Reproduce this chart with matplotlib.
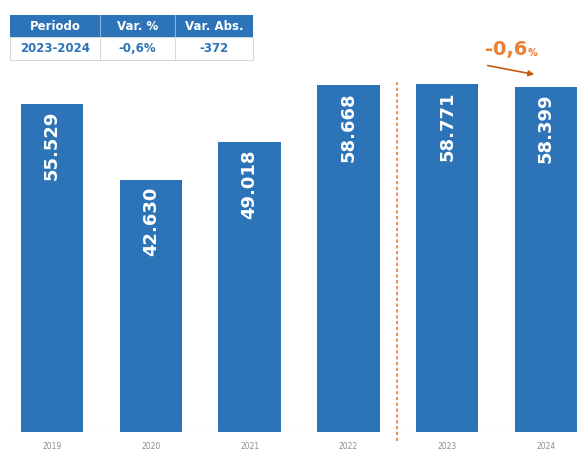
import matplotlib
matplotlib.use("Agg")
import matplotlib.pyplot as plt
from matplotlib.patches import Rectangle, FancyArrowPatch
from matplotlib.lines import Line2D

years = ["2019", "2020", "2021", "2022", "2023", "2024"]
values = [55529, 42630, 49018, 58668, 58771, 58399]
value_labels = ["55.529", "42.630", "49.018", "58.668", "58.771", "58.399"]
table_header = ["Periodo", "Var. %", "Var. Abs."]
table_row = ["2023-2024", "-0,6%", "-372"]
change_text = "-0,6"

W, H = 578, 454
fig = plt.figure(figsize=(W / 100, H / 100), dpi=100)
fig.patch.set_facecolor("white")

BLUE = "#2C74B7"
ORANGE = "#ED7D31"

# axes: y=0 at pixel 432, x positions centered at 52 .. 546
bottom_px = 432
ax = fig.add_axes([0, (H - bottom_px) / H, 1, bottom_px / H])
px_per_unit = (546 - 52) / 5
ax.set_xlim(-52 / px_per_unit, 5 + (W - 546) / px_per_unit)
ymax = bottom_px / (432 - 85) * values[3]
ax.set_ylim(0, ymax)
for s in ax.spines.values():
    s.set_visible(False)
ax.set_yticks([])
ax.patch.set_alpha(0)

x = list(range(len(years)))
ax.bar(x, values, width=0.63, color=BLUE, zorder=2)
ax.set_xticks(x)
ax.set_xticklabels(years, fontsize=5.5, color="#8C8C8C")
ax.tick_params(axis="x", length=0, pad=7)

# baseline
ax.axhline(0, xmin=5 / W, xmax=1, color="#D9D9D9", lw=0.8, zorder=1)

for xi, v, lab in zip(x, values, value_labels):
    ax.annotate(lab, (xi, v), xytext=(0, -5), textcoords="offset points",
                rotation=90, ha="center", va="top", color="white",
                fontsize=13, fontweight="bold", zorder=3)

# dashed separator between 2022 and 2023
ax.plot([3.49, 3.49], [-0.02 * ymax, 0.81 * ymax], color="#F07A3A", lw=1.2,
        ls=(0, (2, 1.5)), clip_on=False, zorder=1)


def fx(px):
    return px / W


def fy(py):
    return 1 - py / H


# table
cols = [10, 100, 175, 253]
rows = [15, 37, 60]
fig.add_artist(Rectangle((fx(cols[0]), fy(rows[1])), fx(cols[3] - cols[0]),
                         (rows[1] - rows[0]) / H, transform=fig.transFigure,
                         facecolor=BLUE, edgecolor="none"))
fig.add_artist(Rectangle((fx(cols[0]), fy(rows[2])), fx(cols[3] - cols[0]),
                         (rows[2] - rows[1]) / H, transform=fig.transFigure,
                         facecolor="white", edgecolor="#D0D0D0", lw=0.6))
for c in cols[1:3]:
    fig.add_artist(Line2D([fx(c), fx(c)], [fy(rows[0]), fy(rows[1])],
                          transform=fig.transFigure, color="#9DC3E6", lw=0.6))
    fig.add_artist(Line2D([fx(c), fx(c)], [fy(rows[1]), fy(rows[2])],
                          transform=fig.transFigure, color="#D0D0D0", lw=0.6))
for i in range(3):
    cx = fx((cols[i] + cols[i + 1]) / 2)
    fig.text(cx, fy((rows[0] + rows[1]) / 2), table_header[i], ha="center",
             va="center", color="white", fontsize=8.5, fontweight="bold")
    fig.text(cx, fy((rows[1] + rows[2]) / 2), table_row[i], ha="center",
             va="center", color=BLUE, fontsize=8.5, fontweight="bold")

# change annotation
fig.text(fx(527), fy(50), change_text, ha="right", va="center", color=ORANGE,
         fontsize=14, fontweight="bold")
fig.text(fx(528), fy(53), "%", ha="left", va="center", color=ORANGE,
         fontsize=7, fontweight="bold")
fig.add_artist(FancyArrowPatch((fx(485), fy(65)), (fx(537), fy(75)),
                               transform=fig.transFigure, arrowstyle="-|>",
                               mutation_scale=8, color="#C55A11", lw=1.2))

fig.savefig("out.png", dpi=100)
